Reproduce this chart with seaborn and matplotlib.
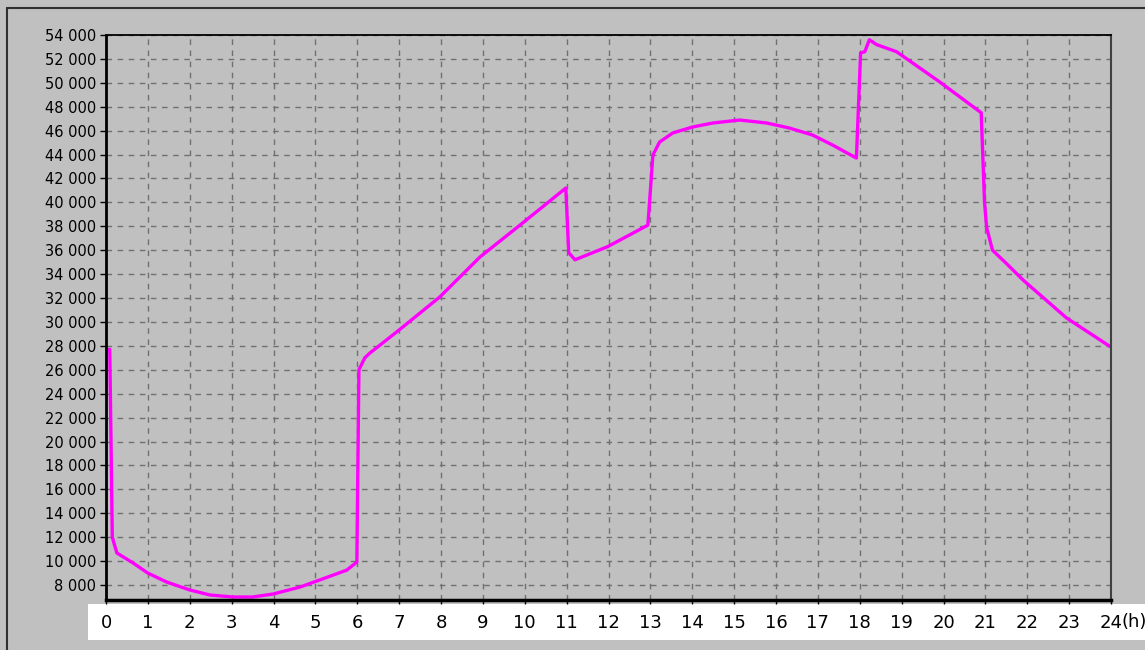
import matplotlib
matplotlib.use("Agg")
import matplotlib.pyplot as plt
import seaborn as sns
import pandas as pd
from matplotlib.lines import Line2D
from matplotlib.patches import Rectangle

# ---- data ----
hours = [0.00, 0.09, 0.12, 0.15, 0.26, 0.65, 1.00, 1.45, 2.00, 2.48,
         3.03, 3.50, 3.99, 4.63, 5.10, 5.75, 5.99,
         6.04, 6.18, 6.30, 6.70, 7.00, 7.97, 8.93, 9.95, 10.98,
         11.05, 11.20, 11.98, 12.94,
         13.00, 13.06, 13.22, 13.53, 14.00, 14.49, 15.13, 15.78, 16.32,
         16.87, 17.35, 17.92,
         18.02, 18.12, 18.23, 18.40, 18.88, 19.90, 20.90,
         20.98, 21.03, 21.17, 21.50, 21.90, 22.94, 24.00]
loads = [27700, 27700, 20000, 12000, 10680, 9840, 9000, 8250, 7590, 7170,
         7000, 7000, 7250, 7830, 8420, 9250, 9920,
         26000, 27000, 27400, 28500, 29330, 32090, 35430, 38280, 41200,
         35800, 35200, 36300, 38100,
         41000, 43960, 45050, 45800, 46300, 46640, 46890, 46640, 46220,
         45640, 44800, 43710,
         52500, 52600, 53600, 53200, 52600, 50100, 47500,
         40000, 37900, 36000, 34900, 33510, 30330, 27900]
x_ticks = list(range(0, 25))
x_tick_labels = [str(h) for h in x_ticks]
y_ticks = list(range(8000, 54001, 2000))
y_tick_labels = [f"{v:,}".replace(",", " ") for v in y_ticks]
unit_label = "(h)"

df = pd.DataFrame({"hour": hours, "load": loads})

sns.set_theme(style="white")
plt.rcParams["font.family"] = ["DejaVu Sans"]

BG = "#c0c0c0"
fig = plt.figure(figsize=(11.45, 6.5), dpi=100, facecolor=BG)

# white strip behind x tick labels
fig.patches.append(Rectangle((88 / 1145, 10 / 650), 1.0, 36 / 650,
                             transform=fig.transFigure, facecolor="white",
                             edgecolor="none", zorder=-1))
# outer frame lines
fig.lines.append(Line2D([7 / 1145, 7 / 1145], [0, 1 - 8 / 650],
                        transform=fig.transFigure, color="#303030", lw=1.5))
fig.lines.append(Line2D([7 / 1145, 1], [1 - 8 / 650, 1 - 8 / 650],
                        transform=fig.transFigure, color="#303030", lw=1.5))

ax = fig.add_axes([106 / 1145, 50 / 650, (1111 - 106) / 1145, (600 - 35) / 650])
ax.set_facecolor(BG)

sns.lineplot(data=df, x="hour", y="load", ax=ax, estimator=None, sort=False,
             color="#ff00ff", linewidth=2.4)

ax.set_xlim(0, 24)
ax.set_ylim(6750, 54000)
ax.set_xticks(x_ticks)
ax.set_xticklabels(x_tick_labels, fontsize=13)
ax.set_yticks(y_ticks)
ax.set_yticklabels(y_tick_labels, fontsize=10.5)
ax.set_xlabel("")
ax.set_ylabel("")

ax.grid(True, color="#707070", linestyle=(0, (4, 4)), linewidth=1.0)
ax.tick_params(axis="y", length=4, width=1, pad=3, colors="black", direction="out")
ax.tick_params(axis="x", length=3, width=1, pad=7, colors="black", direction="out")
ax.tick_params(axis="both", which="both", left=True, bottom=True)

for side, lw, col in [("left", 2.0, "black"), ("bottom", 2.5, "black"),
                      ("top", 1.3, "black"), ("right", 1.5, "#404040")]:
    ax.spines[side].set_visible(True)
    ax.spines[side].set_linewidth(lw)
    ax.spines[side].set_color(col)

fig.text(1134 / 1145, 1 - 622 / 650, unit_label, fontsize=13,
         ha="center", va="center", color="black")

fig.savefig("out.png", dpi=100, facecolor=BG)
